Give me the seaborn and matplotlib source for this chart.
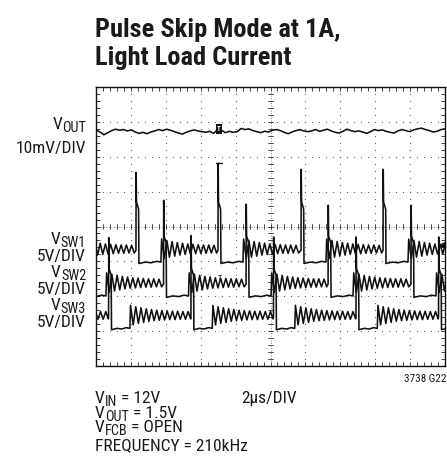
import numpy as np
import pandas as pd
import matplotlib
matplotlib.use("Agg")
import matplotlib.pyplot as plt
import seaborn as sns

W, H, DPI = 447, 457, 100

# scope screen: 2us/DIV, 10 x 8 divisions
X_MAX = 20.0
Y_MAX = 8

# V_OUT ripple in mV (10mV/DIV), read across the screen left to right
VOUT_LEVEL = 6.75
VOUT_MV = [0.2, -0.4, -1.2, -0.6, 0.0, 0.4, 0.1, 0.3, -0.1, 0.2,
           -0.4, -0.8, -0.5, -0.9, -0.4, -0.1, 0.3, 0.0, 0.4, 0.1,
           -0.3, -0.7, -1.0, -0.5, -0.1, 0.2, -0.1, -0.3, -0.5, -0.2,
           -0.8, 0.3, 0.1, -0.6, -0.2, -0.5, -0.3, 0.6, 0.3, 0.5,
           0.0, -0.3, -0.6, -0.2, -0.4, 0.1, 0.3, 0.0, -0.5, -0.9,
           -0.4, 0.0, 0.3, -0.1, -0.3, -0.1, 0.3, -0.2, 0.1, 0.4,
           -0.1, -0.5, -0.7, -0.2, 0.4, 0.0, -0.3, -0.1, -0.4, -0.8,
           -0.3, 0.3, 0.0, 0.2, -0.2, -0.5, -0.7, -0.1, 0.3, 0.0,
           -0.3, 0.2, 0.5, 0.7, 0.3, 0.0, -0.4, -0.2, 0.3, 0.5]

# switch nodes: ground level (div), pulse times (us), pulse peak (div above ground)
SW1_GROUND = 3.0
SW1_PULSES = [-2.43, 2.29, 6.99, 11.75, 16.45]
SW1_PEAKS = [2.6, 2.55, 2.81, 2.64, 2.64]
SW1_LOW = 1.26

SW2_GROUND = 2.03
SW2_PULSES = [-0.86, 3.87, 8.60, 13.30, 18.05]
SW2_PEAKS = [2.6, 2.72, 2.61, 2.58, 2.58]
SW2_LOW = 1.26

SW3_GROUND = 1.1
SW3_PULSES = [-4.0, 0.72, 5.44, 10.17, 14.90, 19.63]
SW3_PEAKS = [2.6, 2.58, 2.64, 2.6, 2.6, 2.6]
SW3_LOW = 1.05

# shape of one switching pulse (us after edge, div above ground; None = peak)
PULSE_DT = [0.0, 0.01, 0.03, 0.15, 0.17]
PULSE_LV = [0.32, None, 1.7, 1.5, -0.06]
# flat low part after the pulse
LOW_FRAC = [0.0, 0.3, 0.55, 0.8, 1.0]
LOW_LV = [-0.06, -0.02, -0.04, 0.0, -0.02]
# ringing after the low part, half cycle = 0.15us
RING_STEP = 0.15
RING_LV = [0.64, 0.08, 0.60, 0.12, 0.57, 0.15, 0.54, 0.18, 0.52, 0.20,
           0.50, 0.21, 0.49, 0.22, 0.48, 0.23, 0.47, 0.23, 0.47, 0.24,
           0.46, 0.24, 0.46, 0.25, 0.45, 0.25, 0.45, 0.25]


def build_sw(pulses, peaks, ground, low_len, t_end=20.6):
    t, v = [], []
    for k, t0 in enumerate(pulses):
        nxt = pulses[k + 1] if k + 1 < len(pulses) else t_end
        for dt, lv in zip(PULSE_DT, PULSE_LV):
            t.append(t0 + dt)
            v.append(ground + (peaks[k] if lv is None else lv))
        start = t0 + PULSE_DT[-1]
        for f, lv in zip(LOW_FRAC, LOW_LV):
            t.append(start + f * low_len)
            v.append(ground + lv)
        tr = start + low_len + 0.04
        for j, lv in enumerate(RING_LV):
            tt = tr + j * RING_STEP
            if tt >= nxt:
                break
            t.append(tt)
            v.append(ground + lv)
    return t, v


def make_frame():
    parts = []
    vt = np.linspace(0, X_MAX, len(VOUT_MV))
    parts.append(pd.DataFrame({"t": vt, "div": VOUT_LEVEL + np.array(VOUT_MV) / 10.0, "trace": "VOUT"}))
    for name, p, pk, g, lo in [("SW1", SW1_PULSES, SW1_PEAKS, SW1_GROUND, SW1_LOW),
                               ("SW2", SW2_PULSES, SW2_PEAKS, SW2_GROUND, SW2_LOW),
                               ("SW3", SW3_PULSES, SW3_PEAKS, SW3_GROUND, SW3_LOW)]:
        t, v = build_sw(p, pk, g, lo)
        parts.append(pd.DataFrame({"t": t, "div": v, "trace": name}))
    return pd.concat(parts, ignore_index=True)


def draw_graticule(ax):
    dot_c = "#666666"
    # dotted division lines
    for xd in range(1, 10):
        if xd == 5:
            continue
        ys = np.arange(0.2, Y_MAX, 0.2)
        ax.scatter(np.full_like(ys, xd * 2.0), ys, s=0.8, color=dot_c, linewidths=0, zorder=1)
    for yd in range(1, 8):
        if yd == 4:
            continue
        xs = np.arange(0.4, X_MAX, 0.4)
        ax.scatter(xs, np.full_like(xs, float(yd)), s=0.8, color=dot_c, linewidths=0, zorder=1)
    # centre cross with small ticks
    ax.plot([10, 10], [0, Y_MAX], color=dot_c, lw=0.6, ls=(0, (1, 2)), zorder=1)
    ax.plot([0, X_MAX], [4, 4], color=dot_c, lw=0.6, ls=(0, (1, 2)), zorder=1)
    for yy in np.arange(0.2, Y_MAX, 0.2):
        ax.plot([9.86, 10.14], [yy, yy], color="#333333", lw=0.6, zorder=1)
    for xx in np.arange(0.4, X_MAX, 0.4):
        ax.plot([xx, xx], [3.93, 4.07], color="#333333", lw=0.6, zorder=1)


def rich_text(fig, x, y, parts, fs, ha="left"):
    """Text with lowered subscripts, placed in pixel coords (y from top)."""
    renderer = fig.canvas.get_renderer()
    items = []
    cx = x
    for s, sub in parts:
        size = fs * 0.82 if sub else fs
        yy = y + (3.0 if sub else 0)
        t = fig.text(cx / W, 1 - yy / H, s, fontsize=size, va="baseline", ha="left", color="#1a1a1a")
        items.append((t, cx, yy))
        cx += t.get_window_extent(renderer).width
    if ha == "right":
        shift = cx - x
        for t, tx, ty in items:
            t.set_position(((tx - shift) / W, 1 - ty / H))


def main():
    df = make_frame()

    sns.set_theme(style="white")
    plt.rcParams["font.family"] = ["Liberation Sans Narrow", "Roboto Condensed",
                                   "DejaVu Sans Condensed", "Liberation Sans", "DejaVu Sans"]

    fig = plt.figure(figsize=(W / DPI, H / DPI), dpi=DPI)
    ax = fig.add_axes([96 / W, 1 - 366 / H, 349 / W, 279 / H])

    draw_graticule(ax)
    sns.lineplot(data=df, x="t", y="div", units="trace", estimator=None, sort=False,
                 color="#111111", lw=1.15, ax=ax, legend=False, zorder=3)

    # trigger marks
    ax.text(SW1_PULSES[2] + 0.05, VOUT_LEVEL + 0.04, "T", color="white", fontsize=5,
            ha="center", va="center", fontweight="bold",
            bbox=dict(boxstyle="square,pad=0.15", fc="#111111", ec="none"), zorder=4)
    ax.plot([SW1_PULSES[2] - 0.12, SW1_PULSES[2] + 0.22],
            [SW1_GROUND + SW1_PEAKS[2]] * 2, color="#111111", lw=1.0, zorder=4)
    ax.text(SW1_PULSES[2] + 0.12, SW2_GROUND + 0.5, "T", fontsize=6, ha="center",
            va="center", color="#222222", zorder=4)
    ax.plot([19.8], [3.47], marker="<", ms=4, color="#111111", zorder=4, clip_on=False)

    ax.set_xlim(0, X_MAX)
    ax.set_ylim(0, Y_MAX)
    ax.set_xticks(np.arange(0, 20.1, 2))
    ax.set_xticks(np.arange(0, 20.01, 0.4), minor=True)
    ax.set_yticks(np.arange(0, 8.1, 1))
    ax.set_yticks(np.arange(0, 8.01, 0.2), minor=True)
    ax.set_xticklabels([])
    ax.set_yticklabels([])
    ax.tick_params(which="both", direction="in", length=3, width=0.6, color="#222222",
                   top=True, right=True, bottom=True, left=True)
    ax.set_xlabel("")
    ax.set_ylabel("")
    for sp in ax.spines.values():
        sp.set_color("#111111")
        sp.set_linewidth(1.0)

    def ftext(x, y, s, **kw):
        fig.text(x / W, 1 - y / H, s, va="baseline", color="#1a1a1a", **kw)

    ftext(95, 37, "Pulse Skip Mode at 1A,", fontsize=19, fontweight="bold")
    ftext(95, 65, "Light Load Current", fontsize=19, fontweight="bold")

    fs = 12.5
    rich_text(fig, 86, 129, [("V", False), ("OUT", True)], fs, ha="right")
    ftext(86, 153, "10mV/DIV", fontsize=fs, ha="right")
    rich_text(fig, 86, 244, [("V", False), ("SW1", True)], fs, ha="right")
    ftext(86, 261, "5V/DIV", fontsize=fs, ha="right")
    rich_text(fig, 86, 277, [("V", False), ("SW2", True)], fs, ha="right")
    ftext(86, 294, "5V/DIV", fontsize=fs, ha="right")
    rich_text(fig, 86, 310, [("V", False), ("SW3", True)], fs, ha="right")
    ftext(86, 327, "5V/DIV", fontsize=fs, ha="right")

    rich_text(fig, 95, 403, [("V", False), ("IN", True), (" = 12V", False)], fs)
    ftext(241, 403, "2\u00b5s/DIV", fontsize=fs)
    rich_text(fig, 95, 418, [("V", False), ("OUT", True), (" = 1.5V", False)], fs)
    rich_text(fig, 95, 432, [("V", False), ("FCB", True), (" = OPEN", False)], fs)
    ftext(95, 450, "FREQUENCY = 210kHz", fontsize=fs)
    ftext(446, 382, "3738 G22", fontsize=8, ha="right")

    fig.savefig("out.png", dpi=DPI)


if __name__ == "__main__":
    main()
